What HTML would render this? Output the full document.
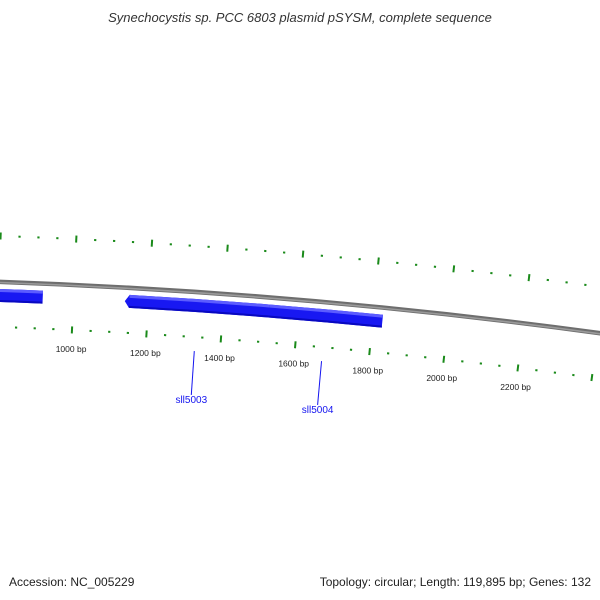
<!DOCTYPE html>
<html><head><meta charset="utf-8"><style>
html,body{margin:0;padding:0;background:#fff;width:600px;height:600px;overflow:hidden}
svg{display:block;font-family:"Liberation Sans","DejaVu Sans",sans-serif}
</style></head><body>
<svg id="map" width="600" height="600" viewBox="0 0 600 600">
<text x="300" y="22" text-anchor="middle" font-size="13" font-style="italic" fill="#333">Synechocystis sp. PCC 6803 plasmid pSYSM, complete sequence</text>
<text x="9" y="586" font-size="12" fill="#222">Accession: NC_005229</text>
<text x="591" y="586" text-anchor="end" font-size="12" fill="#222">Topology: circular; Length: 119,895 bp; Genes: 132</text>
<g id="plot"></g>
</svg>
<script>
const tickPositions = [750,800,850,900,950,1000,1050,1100,1150,1200,1250,1300,1350,1400,1450,1500,1550,1600,1650,1700,1750,1800,1850,1900,1950,2000,2050,2100,2150,2200,2250,2300,2350,2400];
const majorTickLabels = ["1000 bp","1200 bp","1400 bp","1600 bp","1800 bp","2000 bp","2200 bp"];
const majorTickValues = [1000,1200,1400,1600,1800,2000,2200];
const geneNames = ["sll5002","sll5003","sll5004"];
const geneStarts = [500,1137,1522];
const geneEnds = [918,1525,1826];
const geneStrands = [1,-1,1];
const geneLabeled = [false,true,true];

const NS="http://www.w3.org/2000/svg";
const g=document.getElementById('plot');
const CX=-210, CY=6278.3, R=6000;
const A0=0.04737, K=6.264e-5;
function ang(bp){return A0+(bp-1000)*K;}
function pt(bp,r){const a=ang(bp);return [CX+r*Math.sin(a), CY-r*Math.cos(a)];}
function mk(tag,attrs){const e=document.createElementNS(NS,tag);for(const k in attrs)e.setAttribute(k,attrs[k]);g.appendChild(e);return e;}
function arc(b1,b2,r){const p=pt(b1,r),q=pt(b2,r);return `M${p[0]},${p[1]} A${r},${r} 0 0 1 ${q[0]},${q[1]}`;}

let bb=mk('path',{d:arc(-300,3000,R),stroke:'#6e6e6e',"stroke-width":4.5,fill:'none'});


let bb2=mk('path',{d:arc(-300,3000,R-0.6),stroke:'#9a9a9a',"stroke-width":1.6,fill:'none'});



const RO=R+46, RI=R-45;
tickPositions.forEach(bp=>{
  const major=bp%200===0;
  const h=major?3.5:1;
  [RO,RI].forEach(r=>{
    const a=pt(bp,r-h),b=pt(bp,r+h);
    const t=mk('line',{x1:a[0],y1:a[1],x2:b[0],y2:b[1],stroke:'#1a8a1a',"stroke-width":major?2:2.2});
    
    
  });
});
majorTickValues.forEach((bp,i)=>{
  const p=pt(bp,RI-19);
  const t=mk('text',{x:p[0],y:p[1]+3,"text-anchor":"middle","font-size":"8.5",fill:'#222'});
  t.textContent=majorTickLabels[i];
  
  
});

const r1=R-7, r2=R-20;
geneNames.forEach((name,i)=>{
  let s=geneStarts[i], e=geneEnds[i];
  let d;
  const ah=12;
  if(geneStrands[i]<0){
    const a=pt(s+ah,r1),b=pt(e,r1),c=pt(e,r2),dd=pt(s+ah,r2),tp=pt(s,(r1+r2)/2);
    d=`M${tp[0]},${tp[1]} L${a[0]},${a[1]} A${r1},${r1} 0 0 1 ${b[0]},${b[1]} L${c[0]},${c[1]} A${r2},${r2} 0 0 0 ${dd[0]},${dd[1]} Z`;
  } else {
    const a=pt(s,r1),b=pt(e,r1),c=pt(e,r2),dd=pt(s,r2);
    d=`M${a[0]},${a[1]} A${r1},${r1} 0 0 1 ${b[0]},${b[1]} L${c[0]},${c[1]} A${r2},${r2} 0 0 0 ${dd[0]},${dd[1]} Z`;
  }
  const p=mk('path',{d:d,fill:'#1818f2'});
  
  
  const hl=mk('path',{d:arc(geneStrands[i]<0?s+ah:s,e,r1-1.5),stroke:'#5c5cff',"stroke-width":3,fill:'none'});
  
  
  const sh=mk('path',{d:arc(geneStrands[i]<0?s+ah:s,e,r2+1),stroke:'#0808c0',"stroke-width":2,fill:'none'});
  
  
  if(geneLabeled[i]){
    const mid=(s+e)/2;
    const a=pt(mid,R-59),b=pt(mid,R-103);
    const l=mk('line',{x1:a[0],y1:a[1],x2:b[0],y2:b[1],stroke:'#1414f0',"stroke-width":1});
    
    
    const t=mk('text',{x:b[0],y:b[1]+8,"text-anchor":"middle","font-size":"10",fill:'#1414f0'});
    t.textContent=name;
    
    
  }
});
</script>
</body></html>
